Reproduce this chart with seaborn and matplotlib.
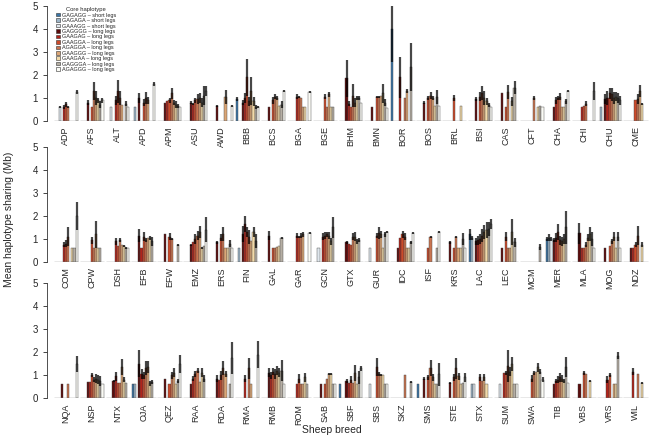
import numpy as np
import pandas as pd
import matplotlib
matplotlib.use('Agg')
import matplotlib.pyplot as plt
import seaborn as sns
from matplotlib.patches import Patch

sns.set_style("white")
plt.rcParams['font.family'] = ['Liberation Sans', 'DejaVu Sans']

na = np.nan

haplotypes = ["GAGAGG – short legs", "GAGAGA – short legs", "GAAAGG – short legs",
              "GAGGGG – long legs", "GAAGAG – long legs", "GAAGGA – long legs",
              "AGAGGA – long legs", "GAAGGG – long legs", "GAAGAA – long legs",
              "GAGGGA – long legs", "AGAGGG – long legs"]
hap_colors = ["#3b75a6", "#9db5c8", "#dfe6ec", "#5a0c0c", "#b0231a", "#cc4a2a",
              "#c97450", "#dba676", "#f2d9a8", "#b5aea3", "#fbfbf5"]

# panel 1
breeds_1 = ["ADP", "AFS", "ALT", "APD", "APM", "ASU", "AWD", "BBB", "BCS", "BGA", "BGE", "BHM",
            "BMN", "BOR", "BOS", "BRL", "BSI", "CAS", "CFT", "CHA", "CHI", "CHU", "CME"]
means_1 = [
    [na, na, 0.6, na, 0.6, 0.72, 0.62, na, na, na, 1.25],
    [na, na, na, 0.8, na, 0.6, 1.3, 1.0, 0.9, 0.7, 0.9],
    [na, na, 0.6, na, 0.9, 1.3, 1.0, 0.7, na, 0.75, 0.6],
    [na, 0.6, na, 1.0, na, 0.8, 1.0, 0.9, na, na, 1.6],
    [na, na, na, 0.8, 0.85, 0.9, 1.2, 0.8, 0.7, 0.65, 0.6],
    [na, na, na, 0.8, 0.75, 0.9, 0.95, 1.0, 0.8, 1.1, 1.3],
    [na, na, na, 0.65, na, na, na, 1.05, na, na, 0.65],
    [0.95, na, na, 0.8, 1.0, 1.9, 0.85, 1.3, 0.85, 0.6, 0.6],
    [na, na, na, 0.6, na, 0.9, 1.05, 1.0, 0.65, 0.7, 1.3],
    [na, na, na, na, 1.05, 1.05, 1.0, 0.6, 0.6, na, 1.25],
    [na, na, na, na, na, 1.05, 0.6, 1.15, 0.6, 0.6, na],
    [na, na, na, 1.85, 0.75, 0.6, 1.1, 0.8, 1.0, 1.0, 0.8],
    [na, na, na, 0.6, na, 1.05, 1.05, 1.1, 1.2, 0.8, 0.55],
    [4.0, na, na, na, 1.9, na, 1.0, 1.3, na, 2.35, na],
    [na, na, na, 0.8, na, 1.0, 1.1, 1.0, 0.65, 1.05, 0.65],
    [na, na, na, na, na, 1.0, na, na, 0.65, na, na],
    [na, na, na, 0.95, na, 1.05, 1.2, 1.0, 0.85, 0.7, 0.6],
    [na, na, na, 1.2, na, 0.6, 1.25, na, 0.85, 1.45, na],
    [na, na, na, na, na, na, 1.0, na, 0.6, 0.65, 0.6],
    [na, na, na, 0.6, 0.9, 1.0, 1.05, 0.6, 0.6, 0.85, 1.3],
    [na, na, na, na, 0.6, 0.65, 0.75, na, na, na, 1.3],
    [na, 0.6, na, 0.95, 1.0, 1.2, 1.15, 1.0, 1.05, 1.0, 0.9],
    [na, na, na, na, na, 0.9, 0.95, 1.3, 0.75, na, na],
]
errs_1 = [
    [0, 0, 0.03, 0, 0.1, 0.1, 0.05, 0, 0, 0, 0.08],
    [0, 0, 0, 0.1, 0, 0, 0.4, 0.3, 0.1, 0.15, 0.1],
    [0, 0, 0, 0, 0.2, 0.5, 0.3, 0, 0, 0.1, 0],
    [0, 0, 0, 0.2, 0, 0.15, 0.25, 0.15, 0, 0, 0.08],
    [0, 0, 0, 0, 0, 0.1, 0.25, 0.1, 0.15, 0.1, 0],
    [0, 0, 0, 0.05, 0.05, 0.1, 0.2, 0.2, 0.2, 0.4, 0.2],
    [0, 0, 0, 0.03, 0, 0, 0, 0.3, 0, 0, 0.05],
    [0.1, 0, 0, 0.1, 0.2, 0.8, 0.2, 0.6, 0.2, 0.1, 0.05],
    [0, 0, 0, 0, 0, 0.15, 0.1, 0.1, 0, 0.15, 0.05],
    [0, 0, 0, 0, 0.1, 0.05, 0, 0, 0, 0, 0.05],
    [0, 0, 0, 0, 0, 0.1, 0, 0.1, 0, 0, 0],
    [0, 0, 0, 0.8, 0.1, 0, 0.5, 0.2, 0.1, 0.1, 0],
    [0, 0, 0, 0, 0, 0.05, 0.05, 0, 0.4, 0.15, 0],
    [1.45, 0, 0, 0, 0.9, 0, 0, 0.1, 0, 1.05, 0],
    [0, 0, 0, 0.05, 0, 0.1, 0.15, 0.1, 0, 0.3, 0],
    [0, 0, 0, 0, 0, 0.12, 0, 0, 0, 0, 0],
    [0, 0, 0, 0.1, 0, 0.2, 0.3, 0.3, 0.15, 0.1, 0],
    [0, 0, 0, 0, 0, 0, 0.3, 0, 0.2, 0.3, 0],
    [0, 0, 0, 0, 0, 0, 0.1, 0, 0, 0, 0],
    [0, 0, 0, 0, 0.15, 0.1, 0.15, 0, 0, 0.1, 0.05],
    [0, 0, 0, 0, 0, 0, 0.1, 0, 0, 0, 0.4],
    [0, 0, 0, 0.2, 0.3, 0.25, 0.3, 0.25, 0.2, 0.2, 0.2],
    [0, 0, 0, 0, 0, 0, 0.2, 0.25, 0.05, 0, 0],
]

# panel 2
breeds_2 = ["COM", "CPW", "DSH", "EFB", "EFW", "EMZ", "ERS", "FIN", "GAL", "GAR", "GCN", "GTX",
            "GUR", "IDC", "ISF", "KRS", "LAC", "LEC", "MCM", "MER", "MLA", "MOG", "NDZ"]
means_2 = [
    [na, na, na, na, 0.75, 0.8, 1.1, na, 0.6, 0.6, 2.0],
    [na, na, na, na, na, 0.95, 0.6, 1.2, 0.6, 0.6, na],
    [na, na, na, na, 0.9, 0.7, 0.95, 0.75, 0.7, 0.6, 0.6],
    [na, na, na, 1.15, 0.6, 1.1, 0.95, 1.05, 1.05, 0.9, na],
    [na, na, na, 1.2, na, 1.1, 1.0, na, na, 0.75, na],
    [na, na, na, 0.75, 0.85, 1.0, 1.15, 1.3, 0.6, 0.7, 1.4],
    [na, na, na, 0.85, na, 1.05, 1.2, 0.6, 0.6, 0.8, 0.6],
    [na, 0.6, na, 1.2, 1.65, 1.3, 1.1, 0.9, 1.3, 0.9, na],
    [na, na, na, 1.15, na, 0.6, 0.6, 0.65, 0.7, 1.05, na],
    [na, na, na, na, 1.15, 1.1, 1.15, 1.2, na, na, 1.25],
    [na, na, 0.6, na, 1.1, 1.15, 1.2, 1.15, 0.9, 1.5, na],
    [na, na, na, 0.85, 0.8, 0.75, 1.1, 1.1, 0.9, 0.95, na],
    [na, na, 0.6, na, na, 1.15, 1.25, 1.2, 0.6, 1.2, 1.3],
    [na, na, na, 0.6, 1.05, 1.2, 1.1, 0.6, 0.6, 0.85, 1.25],
    [na, na, na, na, na, 0.6, 1.1, na, na, 0.6, 1.3],
    [na, na, na, 0.85, na, 0.6, 1.1, 0.6, 0.6, 1.0, 0.6],
    [1.2, 1.05, na, 0.9, 0.95, 1.0, 1.15, 1.3, 1.4, 1.45, 1.65],
    [na, na, na, 0.6, na, 1.1, 0.6, 0.6, 1.3, 0.85, na],
    [na, na, na, na, na, na, na, na, na, 0.65, na],
    [1.0, 1.05, 1.0, 0.95, 1.05, 1.3, 0.95, 0.9, 1.0, 1.5, na],
    [na, na, na, 1.25, 0.6, 0.6, 0.75, 1.05, 1.2, 1.0, 0.6],
    [na, na, na, 0.6, na, 0.7, 0.9, 1.1, 0.6, 1.1, 0.6],
    [na, na, na, 0.6, 0.6, 0.75, 1.15, na, 0.75, na, na],
]
errs_2 = [
    [0, 0, 0, 0, 0.1, 0.15, 0.4, 0, 0, 0, 0.6],
    [0, 0, 0, 0, 0, 0.15, 0, 0.6, 0, 0, 0],
    [0, 0, 0, 0, 0.15, 0, 0.1, 0, 0.05, 0.05, 0],
    [0, 0, 0, 0.3, 0, 0.2, 0.1, 0, 0.1, 0.2, 0],
    [0, 0, 0, 0, 0, 0.15, 0.05, 0, 0, 0.05, 0],
    [0, 0, 0, 0.05, 0, 0.2, 0.2, 0.25, 0.05, 0, 0.55],
    [0, 0, 0, 0.05, 0, 0.15, 0.3, 0, 0, 0.15, 0],
    [0, 0, 0, 0.35, 0.35, 0.2, 0.3, 0, 0.2, 0.3, 0],
    [0, 0, 0, 0.2, 0, 0, 0, 0, 0, 0.05, 0],
    [0, 0, 0, 0, 0.1, 0.05, 0.1, 0.1, 0, 0, 0.05],
    [0, 0, 0, 0, 0.15, 0.15, 0.1, 0.15, 0.15, 0.45, 0],
    [0, 0, 0, 0.05, 0, 0, 0.15, 0.2, 0.1, 0.1, 0],
    [0, 0, 0, 0, 0, 0.1, 0.25, 0.15, 0, 0.1, 0.05],
    [0, 0, 0, 0, 0, 0.15, 0.15, 0, 0, 0.05, 0.05],
    [0, 0, 0, 0, 0, 0, 0.05, 0, 0, 0, 0.05],
    [0, 0, 0, 0.05, 0, 0, 0.05, 0, 0, 0.25, 0],
    [0.25, 0.1, 0, 0.15, 0.2, 0.2, 0.3, 0.3, 0.35, 0.3, 0.2],
    [0, 0, 0, 0, 0, 0.2, 0, 0, 0.55, 0.2, 0],
    [0, 0, 0, 0, 0, 0, 0, 0, 0, 0.12, 0],
    [0.1, 0.15, 0.1, 0.1, 0.2, 0.35, 0.2, 0.2, 0.2, 0.7, 0],
    [0, 0, 0, 0.45, 0, 0, 0.1, 0.15, 0.3, 0.3, 0],
    [0, 0, 0, 0, 0, 0, 0.1, 0.2, 0, 0.2, 0],
    [0, 0, 0, 0, 0, 0.1, 0.4, 0, 0.1, 0, 0],
]

# panel 3
breeds_3 = ["NQA", "NSP", "NTX", "OJA", "QEZ", "RAA", "RDA", "RMA", "RMB", "ROM", "SAB", "SBF",
            "SBS", "SKZ", "SMS", "STE", "STX", "SUM", "SWA", "TIB", "VBS", "VRS", "WIL"]
means_3 = [
    [na, na, na, 0.6, na, na, 0.6, na, na, na, 1.5],
    [na, na, na, 0.72, 0.7, 1.0, 0.8, 0.85, 0.8, 0.75, 0.6],
    [na, na, na, 0.75, 0.95, 0.65, 0.65, 1.35, 0.8, 0.65, na],
    [0.6, 0.6, na, 1.5, 1.05, 1.0, 1.3, 1.35, 0.65, 0.7, na],
    [na, na, na, 0.85, na, 0.6, 1.0, 1.1, 0.6, 0.75, 1.5],
    [na, na, na, 0.6, 0.85, 1.05, 1.2, 0.7, 1.1, 0.85, na],
    [na, na, na, 0.85, 0.8, 1.0, 1.3, 1.05, na, 0.6, 1.75],
    [na, na, na, na, 0.85, na, 1.3, 0.6, na, na, 1.9],
    [na, na, na, 1.1, 1.0, 1.15, 1.05, 1.2, 1.1, 1.2, 0.6],
    [na, na, na, na, 0.6, 0.85, 0.6, 0.6, 0.9, 0.6, na],
    [na, na, na, 0.6, na, 0.6, 0.85, 1.05, 1.05, 0.6, 0.6],
    [0.6, na, na, 0.75, 0.65, 0.8, 0.65, 1.1, 0.6, 0.9, 1.3],
    [na, na, 0.6, na, na, 1.35, 1.05, 1.0, 1.0, 0.6, 0.6],
    [na, na, na, na, na, na, 1.0, na, na, 0.7, na],
    [0.6, na, na, 0.85, na, 0.9, 1.3, 0.9, 0.6, 0.6, 1.05],
    [na, na, na, 0.65, na, 0.9, 1.3, 0.95, 0.6, 0.65, 0.9],
    [na, 0.6, 0.6, na, na, 0.9, 0.75, 0.9, 0.6, na, na],
    [na, na, 0.6, na, 1.1, 1.1, 1.4, 1.15, 1.5, 0.6, 0.6],
    [na, na, na, na, na, 0.85, 1.1, 1.15, 1.35, 1.15, 0.8],
    [na, na, na, 0.6, 0.75, 0.8, 0.9, 0.85, 0.75, 1.35, 0.65],
    [na, na, na, 0.6, na, 1.1, 1.05, na, 0.75, na, na],
    [na, na, na, na, 0.8, 1.0, na, 0.6, 0.6, 1.85, na],
    [na, na, na, na, 1.15, na, 1.05, na, 0.65, na, na],
]
errs_3 = [
    [0, 0, 0, 0, 0, 0, 0, 0, 0, 0, 0.35],
    [0, 0, 0, 0, 0, 0.1, 0.1, 0.2, 0.2, 0.2, 0],
    [0, 0, 0, 0.05, 0.2, 0, 0, 0.35, 0.1, 0, 0],
    [0, 0, 0, 0.6, 0.2, 0.15, 0.3, 0.25, 0.1, 0.1, 0],
    [0, 0, 0, 0, 0, 0, 0.15, 0.2, 0, 0.1, 0.4],
    [0, 0, 0, 0, 0.1, 0.15, 0.1, 0, 0.2, 0.15, 0],
    [0, 0, 0, 0.15, 0, 0.2, 0.3, 0.15, 0, 0, 0.7],
    [0, 0, 0, 0, 0.15, 0, 0.45, 0, 0, 0, 0.6],
    [0, 0, 0, 0.2, 0.15, 0.15, 0.2, 0.2, 0.2, 0.45, 0],
    [0, 0, 0, 0, 0, 0.2, 0, 0, 0.2, 0, 0],
    [0, 0, 0, 0, 0, 0, 0, 0.05, 0.05, 0, 0],
    [0, 0, 0, 0.1, 0, 0.15, 0, 0.35, 0, 0.3, 0.1],
    [0, 0, 0, 0, 0, 0.4, 0.1, 0.05, 0, 0, 0],
    [0, 0, 0, 0, 0, 0, 0, 0, 0, 0.05, 0],
    [0, 0, 0, 0.05, 0, 0.1, 0.35, 0.15, 0, 0, 0.5],
    [0, 0, 0, 0.05, 0, 0.15, 0.45, 0.15, 0, 0, 0.2],
    [0, 0, 0, 0, 0, 0.15, 0, 0.15, 0, 0, 0],
    [0, 0, 0, 0, 0, 0.1, 0.7, 0.2, 0.3, 0, 0],
    [0, 0, 0, 0, 0, 0.15, 0.1, 0, 0.2, 0.1, 0.1],
    [0, 0, 0, 0, 0.1, 0.15, 0.2, 0.15, 0.1, 0.45, 0],
    [0, 0, 0, 0, 0, 0.1, 0, 0, 0.05, 0, 0],
    [0, 0, 0, 0, 0.15, 0.1, 0, 0, 0, 0.15, 0],
    [0, 0, 0, 0, 0.15, 0, 0, 0, 0.05, 0, 0],
]

panels = [(breeds_1, means_1, errs_1), (breeds_2, means_2, errs_2), (breeds_3, means_3, errs_3)]
bottoms = [0.724, 0.402, 0.091]
group_width = 0.9
n_hap = len(haplotypes)

fig = plt.figure(figsize=(6.63, 4.38), dpi=100)

for p, (breeds, means, errs) in enumerate(panels):
    ax = fig.add_axes([0.071, bottoms[p], 0.909, 0.262])
    ax.patch.set_alpha(0)  # let tick labels of the panel above show through

    rows = []
    for b, m_row, e_row in zip(breeds, means, errs):
        for h, m, e in zip(haplotypes, m_row, e_row):
            if not np.isnan(m):
                rows.append({"breed": b, "hap": h, "mean": m, "err": e})
    df = pd.DataFrame(rows)

    sns.barplot(data=df, x="breed", y="mean", hue="hap", order=breeds, hue_order=haplotypes,
                palette=hap_colors, saturation=1, width=group_width, errorbar=None,
                edgecolor="#444444", linewidth=0.3, legend=False, ax=ax)

    # error bars, drawn by hand in the slot of each bar
    bw = group_width / n_hap
    for _, r in df.iterrows():
        i = breeds.index(r["breed"])
        k = haplotypes.index(r["hap"])
        x = i - group_width / 2 + bw * (k + 0.5)
        if r["err"] > 0:
            ax.vlines(x, r["mean"] - r["err"], r["mean"] + r["err"], colors="black",
                      alpha=0.72, lw=1.6)

    # grey baseline under each breed
    for i in range(len(breeds)):
        ax.hlines(0, i - 0.47, i + 0.47, colors="#8a8a8a", lw=1.0)

    ax.set_xlim(-0.73, 22.55)
    ax.set_ylim(0, 5)
    ax.set_yticks([0, 1, 2, 3, 4, 5])
    ax.tick_params(axis="y", labelsize=7, length=3, width=0.6, left=True)
    ax.tick_params(axis="x", labelsize=6.5, rotation=90, length=0, pad=4)
    ax.set_xlabel("")
    ax.set_ylabel("")
    for s in ["top", "right", "bottom"]:
        ax.spines[s].set_visible(False)
    ax.spines["left"].set_linewidth(0.6)
    ax.spines["left"].set_color("#333333")

    if p == 0:
        handles = [Patch(facecolor=c, edgecolor="#333333", linewidth=0.4) for c in hap_colors]
        ax.legend(handles, haplotypes, title="Core haplotype", loc="upper left",
                  bbox_to_anchor=(0.01, 1.02), frameon=False, fontsize=4,
                  title_fontsize=4.2, handlelength=0.6, handleheight=0.6,
                  labelspacing=0.08, handletextpad=0.4, borderaxespad=0.2)

fig.text(0.013, 0.5, "Mean haplotype sharing (Mb)", rotation=90, va="center", ha="center",
         fontsize=7.5)
fig.text(0.5, 0.018, "Sheep breed", ha="center", va="center", fontsize=7.5)

fig.savefig("out.png", dpi=100)
